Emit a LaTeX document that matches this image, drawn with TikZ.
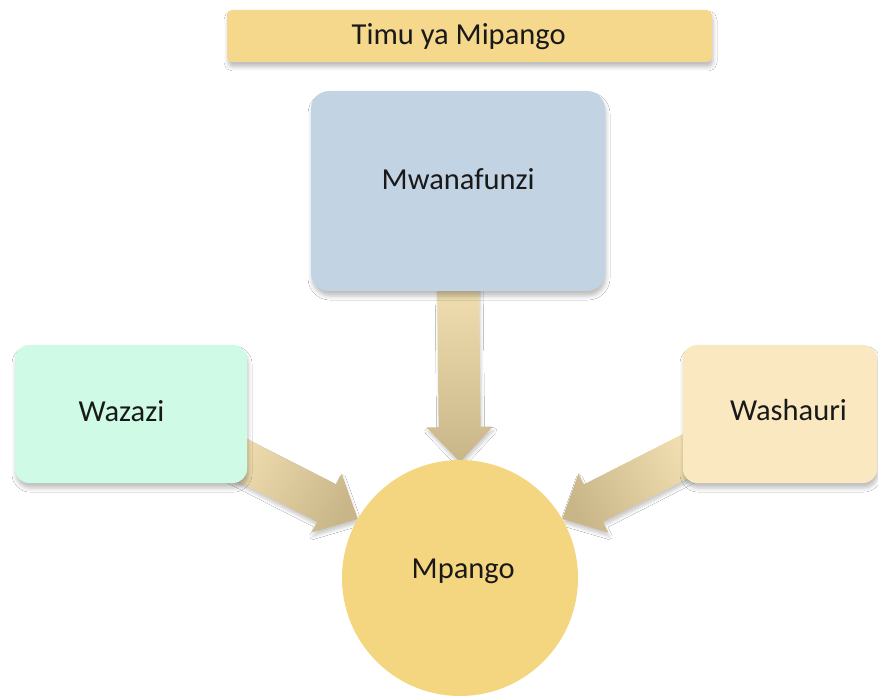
\documentclass[tikz,border=0pt]{standalone}
\usepackage{fontspec}
\setmainfont{Carlito}
\usetikzlibrary{calc,shadows.blur,backgrounds}
\definecolor{titlefill}{HTML}{F5D88C}
\definecolor{mwfill}{HTML}{C2D3E3}
\definecolor{wzfill}{HTML}{CEFAE6}
\definecolor{wsfill}{HTML}{F9E8C0}
\definecolor{mpfill}{HTML}{F5D680}
\definecolor{arrlight}{HTML}{F2E0B2}
\definecolor{arrdark}{HTML}{C8B588}
\newcommand\fatarrow[3]{%
  \coordinate (#1#2h) at ($(#2)!35pt!(#1)$);
  \shade[top color=arrlight, bottom color=arrdark, shading angle=#3,
         blur shadow={shadow xshift=1pt, shadow yshift=-4pt, shadow blur radius=3pt, shadow opacity=20}]
    ($(#1)!21pt!90:(#2)$) -- ($(#1#2h)!21pt!90:(#2)$) -- ($(#1#2h)!33pt!90:(#2)$) -- (#2)
    -- ($(#1#2h)!33pt!-90:(#2)$) -- ($(#1#2h)!21pt!-90:(#2)$) -- ($(#1)!21pt!-90:(#2)$) -- cycle;
}
\begin{document}
\begin{tikzpicture}[x=1pt,y=-1pt,
  box/.style={draw=none, inner sep=0pt, outer sep=0pt,
    blur shadow={shadow xshift=1pt, shadow yshift=-5pt, shadow blur radius=4pt, shadow opacity=25}},
  lbl/.style={inner sep=0pt, outer sep=0pt, text=black!90, font=\fontsize{30.5}{36}\selectfont}]
\useasboundingbox (0,0) rectangle (878,700);
% title
\node[box, fill=titlefill, minimum width=485pt, minimum height=52pt, rounded corners=5pt] (title) at (469.5,36) {};
\node[lbl, anchor=base west] (title-t) at (351.7,45) {Timu ya Mipango};
% boxes
\node[box, fill=mwfill, minimum width=294pt, minimum height=200pt, rounded corners=18pt] (mwana) at (458,191) {};
\node[lbl, anchor=base west] (mwana-t) at (381.7,190) {Mwanafunzi};
\node[box, fill=wzfill, minimum width=232pt, minimum height=138pt, rounded corners=14pt] (wazazi) at (131,414) {};
\node[lbl, anchor=base west] (wazazi-t) at (78.5,421.5) {Wazazi};
\node[box, fill=wsfill, minimum width=194pt, minimum height=138pt, rounded corners=14pt] (washauri) at (780,414) {};
\node[lbl, anchor=base west] (washauri-t) at (730,420) {Washauri};
% circle
\node[circle, fill=mpfill, draw=none, minimum size=236pt, inner sep=0pt, outer sep=0pt] (mpango) at (460,578) {};
\node[lbl, anchor=base west] (mpango-t) at (411.7,578.3) {Mpango};
% arrows
\coordinate (tipL) at (mpango.150);
\coordinate (tipR) at (mpango.30);
\coordinate (tipD) at ($(mpango.north)+(0,2)$);
\coordinate (srcL) at ($(tipL)+(153:150pt)$);
\coordinate (srcR) at ($(tipR)+(27:150pt)$);
\coordinate (srcD) at ($(mwana.south)+(0,-12)$);
\begin{scope}[on background layer]
\fill[white] (0,0) rectangle (878,700);
\fatarrow{srcD}{tipD}{0}
\fatarrow{srcL}{tipL}{63}
\fatarrow{srcR}{tipR}{-63}
\end{scope}
\end{tikzpicture}
\end{document}
